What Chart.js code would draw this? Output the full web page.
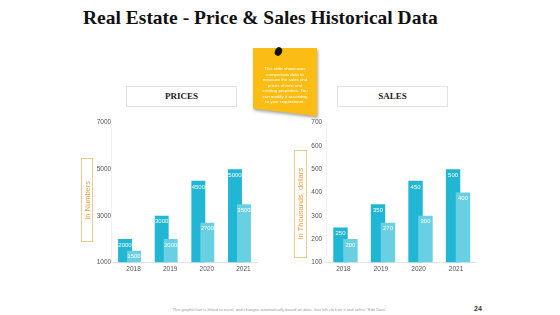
<!DOCTYPE html>
<html>
<head>
<meta charset="utf-8">
<script src="https://cdn.jsdelivr.net/npm/chart.js@4.4.1/dist/chart.umd.min.js"></script>
<style>
html, body { margin: 0; padding: 0; background: #fff; width: 560px; height: 315px; overflow: hidden; }
body { position: relative; font-family: "Liberation Sans", Arial, sans-serif; }
.abs { position: absolute; }
#title { left: 83px; top: 7px; font: bold 19.5px "Liberation Serif", serif; color: #111; white-space: nowrap; }
.tab { border: 1px solid #e2e2e2; height: 19px; width: 109px; text-align: center; font: bold 9px "Liberation Serif", serif; line-height: 19px; color: #222; }
.ytitle { border: 1px solid #f2c88e; box-sizing: border-box; display: flex; align-items: center; justify-content: center; }
.ytitle span { writing-mode: vertical-rl; transform: rotate(180deg); white-space: nowrap; color: #eb9f3e; font-size: 7.5px; }
#noteWrap { left: 253px; top: 48px; width: 64px; height: 68px; filter: drop-shadow(1px 2px 1.5px rgba(0,0,0,0.35)); }
#note { width: 100%; height: 100%; background: #fbbd14; clip-path: polygon(0 0, 100% 0, 100% 100%, 0 89%); }
#noteText { left: 0; top: 18px; width: 64px; text-align: center; color: #fff; font-size: 4.4px; line-height: 5.5px; }
#pin { left: 275px; top: 47px; width: 7px; height: 9px; border-radius: 50%; background: #111; transform: rotate(25deg); }
#footer { left: 130px; top: 307px; width: 300px; text-align: center; color: #9a9a9a; font-size: 4.1px; white-space: nowrap; }
#page { left: 474px; top: 305px; font: bold 7px "Liberation Sans", Arial, sans-serif; color: #333; }
canvas { position: absolute; }
</style>
</head>
<body>
<div id="title" class="abs">Real Estate - Price &amp; Sales Historical Data</div>

<div class="abs tab" style="left:126px; top:86px;">PRICES</div>
<div class="abs tab" style="left:337px; top:86px;">SALES</div>

<div id="noteWrap" class="abs">
  <div id="note"></div>
  <div id="noteText" class="abs">This slide showcases<br>comparison data to<br>measure the sales and<br>prices of new and<br>existing properties. You<br>can modify it according<br>to your requirement.</div>
</div>
<div id="pin" class="abs"></div>

<div class="abs ytitle" style="left:81px; top:158px; width:12px; height:84px;"><span>In Numbers</span></div>
<div class="abs ytitle" style="left:294px; top:150px; width:13px; height:108px;"><span>In Thousands, dollars</span></div>

<canvas id="prices" width="180" height="170" style="left:80px; top:110px;"></canvas>
<canvas id="sales" width="190" height="170" style="left:290px; top:110px;"></canvas>

<div id="footer" class="abs">This graph/chart is linked to excel, and changes automatically based on data. Just left click on it and select "Edit Data".</div>
<div id="page" class="abs">24</div>

<script>
// data
const years = ['2018', '2019', '2020', '2021'];
const pricesNew = [2000, 3000, 4500, 5000];
const pricesOld = [1500, 2000, 2700, 3500];
const salesNew = [250, 350, 450, 500];
const salesOld = [200, 270, 300, 400];
const priceAxis = { min: 1000, max: 7000, step: 2000 };
const salesAxis = { min: 100, max: 700, step: 100 };

const darkBlue = '#21b6d4';
const lightBlue = '#68d0e2';
const tickFont = { family: 'Liberation Sans', size: 6.5 };

// draw first dataset first so the second one overlaps it, then the value labels
const barLabels = {
  id: 'barLabels',
  beforeDatasetsDraw(chart) {
    const metas = chart.getSortedVisibleDatasetMetas();
    const ctx = chart.ctx;
    const a = chart.chartArea;
    ctx.save();
    ctx.beginPath();
    ctx.rect(a.left, a.top, a.right - a.left, a.bottom - a.top);
    ctx.clip();
    metas.forEach(m => m.controller.draw());
    ctx.fillStyle = '#fff';
    ctx.font = '6px "Liberation Sans"';
    ctx.textAlign = 'center';
    ctx.textBaseline = 'middle';
    metas.forEach(m => {
      const vals = chart.data.datasets[m.index].data;
      m.data.forEach((bar, i) => ctx.fillText(vals[i], bar.x, bar.y + 6));
    });
    ctx.restore();
    return false;
  }
};

function makeChart(id, newVals, oldVals, axis, g) {
  return new Chart(document.getElementById(id), {
    type: 'bar',
    data: {
      labels: years,
      datasets: [
        { data: newVals, backgroundColor: darkBlue, categoryPercentage: g.cat, barPercentage: g.bar },
        { data: oldVals, backgroundColor: lightBlue, categoryPercentage: g.cat, barPercentage: g.bar }
      ]
    },
    options: {
      responsive: false,
      animation: false,
      devicePixelRatio: 1,
      layout: { padding: { top: g.top, right: g.right, left: 0, bottom: 0 } },
      plugins: { legend: { display: false }, tooltip: { enabled: false } },
      scales: {
        x: {
          grid: { display: false, drawTicks: false },
          border: { color: '#e4e4e4' },
          ticks: { font: tickFont, color: '#555', padding: 3, maxRotation: 0, labelOffset: g.labelOffset },
          afterFit(s) { s.height = g.xh; }
        },
        y: {
          min: axis.min, max: axis.max,
          grid: { display: false, drawTicks: false },
          border: { color: '#f0f0f0' },
          ticks: { stepSize: axis.step, font: tickFont, color: '#555', padding: g.ypad, callback: v => String(v) },
          afterFit(s) { s.width = g.yw; }
        }
      }
    },
    plugins: [barLabels]
  });
}

makeChart('prices', pricesNew, pricesOld, priceAxis,
  { cat: 0.49, bar: 1.55, top: 12.7, right: 2.2, xh: 17.7, yw: 31.2, labelOffset: 4, ypad: 0 });
makeChart('sales', salesNew, salesOld, salesAxis,
  { cat: 0.53, bar: 1.45, top: 12.7, right: 3.2, xh: 17.7, yw: 36.7, labelOffset: -2, ypad: 4.5 });
</script>
</body>
</html>
